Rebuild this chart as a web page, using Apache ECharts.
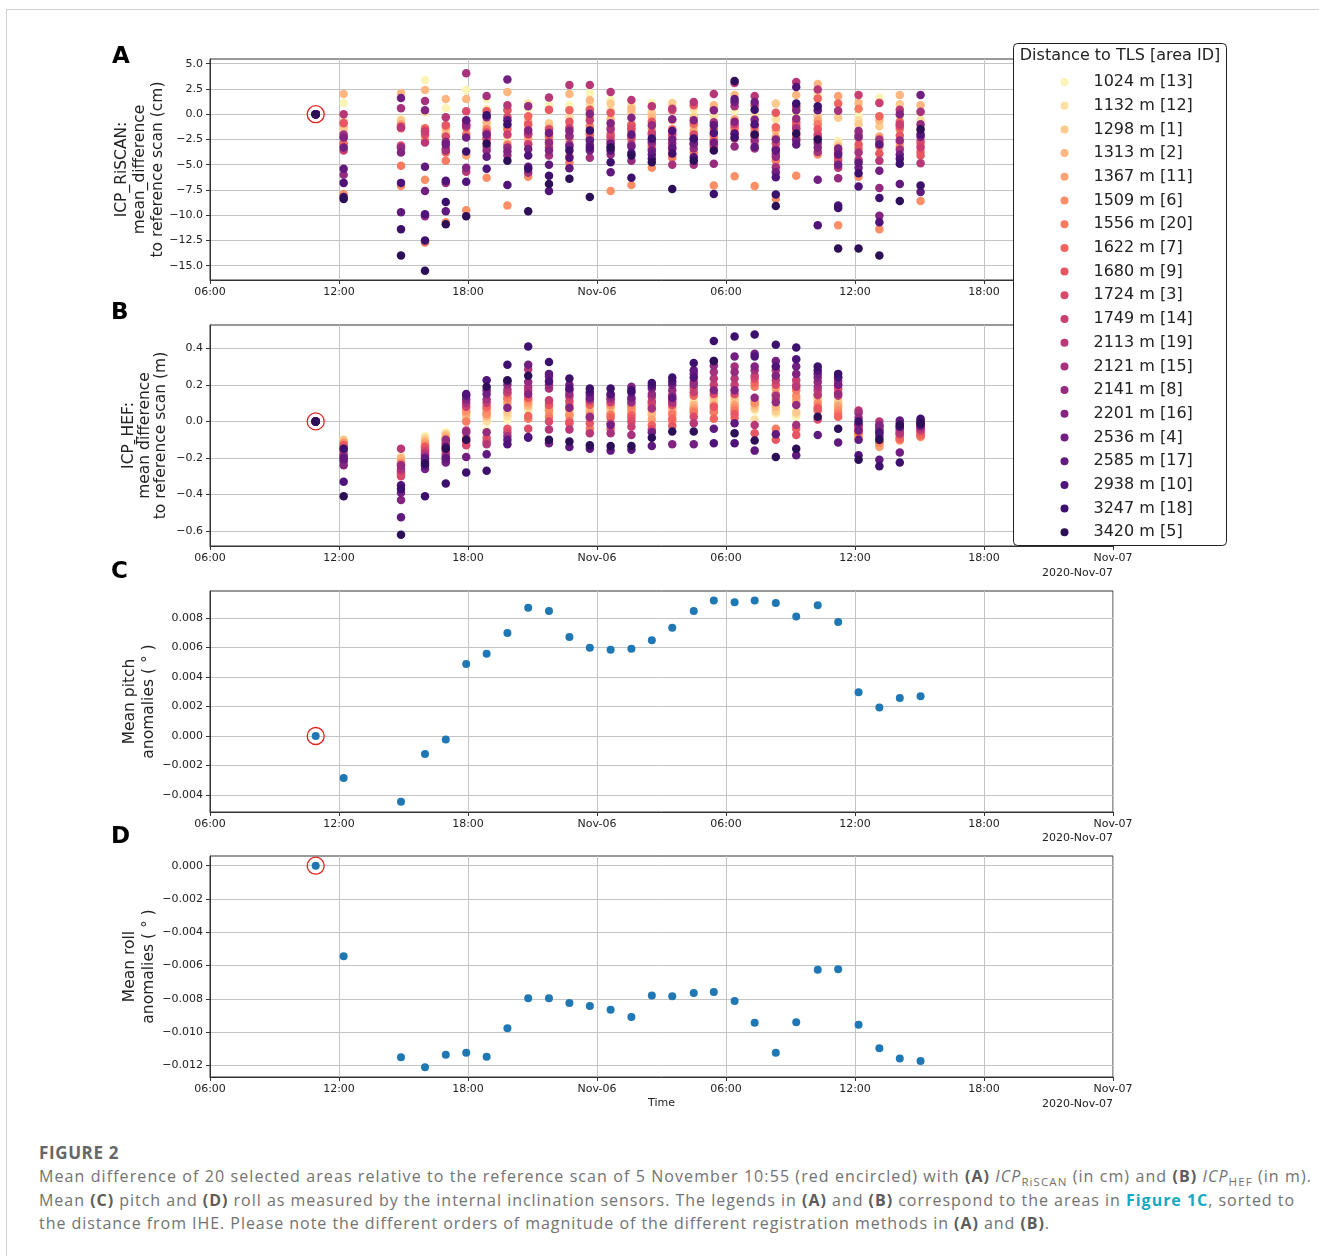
<!DOCTYPE html>
<html>
<head>
<meta charset="utf-8">
<script src="https://cdn.jsdelivr.net/npm/echarts@6/dist/echarts.min.js"></script>
<style>
body{margin:0;background:#fff;}
#page{position:relative;width:1319px;height:1256px;overflow:hidden;background:#fff;}
#frame{position:absolute;left:6px;top:9px;right:-2px;bottom:-2px;border-left:1px solid #d0d0d0;border-top:1px solid #d0d0d0;}
#main{position:absolute;left:0;top:0;width:1319px;height:1135px;}
.cap{position:absolute;left:39px;white-space:nowrap;font-family:'Open Sans';font-size:16px;line-height:20px;color:#727272;display:inline-block;}
.cap b{color:#5c5c5c;font-weight:700;}
.cap .lnk{color:#18a9c1;}
.cap .sb{font-size:11.5px;position:relative;top:4px;}
.fig{font-size:17px;font-weight:700;color:#666;}
</style>
</head>
<body>
<div id="page">
  <div id="frame"></div>
  <div id="main"></div>
  <div class="cap fig" style="top:1143px" data-w="80">FIGURE 2</div>
  <div class="cap" style="top:1166px" data-w="1273">Mean difference of 20 selected areas relative to the reference scan of 5 November 10:55 (red encircled) with <b>(A)</b> <i>ICP</i><span class="sb">RiSCAN</span> (in cm) and <b>(B)</b> <i>ICP</i><span class="sb">HEF</span> (in m).</div>
  <div class="cap" style="top:1189.5px" data-w="1256">Mean <b>(C)</b> pitch and <b>(D)</b> roll as measured by the internal inclination sensors. The legends in <b>(A)</b> and <b>(B)</b> correspond to the areas in <b class="lnk">Figure 1C</b>, sorted to</div>
  <div class="cap" style="top:1213px" data-w="1011">the distance from IHE. Please note the different orders of magnitude of the different registration methods in <b>(A)</b> and <b>(B)</b>.</div>
</div>
<script>
//扫描时间 (2020年11月, 月-日 时:分)
var scanTimes = ['11-05 10:55','11-05 12:13','11-05 14:53','11-05 16:00','11-05 16:58','11-05 17:55','11-05 18:52',
  '11-05 19:50','11-05 20:48','11-05 21:46','11-05 22:43','11-05 23:40','11-06 00:38','11-06 01:36',
  '11-06 02:33','11-06 03:30','11-06 04:30','11-06 05:26','11-06 06:24','11-06 07:20','11-06 08:19',
  '11-06 09:16','11-06 10:16','11-06 11:13','11-06 12:10','11-06 13:08','11-06 14:05','11-06 15:03'];

//区域: 到TLS的距离(m) 和 区域ID
var areaDist = [1024,1132,1298,1313,1367,1509,1556,1622,1680,1724,1749,2113,2121,2141,2201,2536,2585,2938,3247,3420];
var areaId = [13,12,1,2,11,6,20,7,9,3,14,19,15,8,16,4,17,10,18,5];

//A: ICP_RiSCAN 平均差 (cm), 每行一次扫描, 每列一个区域
var riscanCm = [
  [0,0,0,0,0,0,0,0,0,0,0,0,0,0,0,0,0,0,0,0],
  [1.1,-1.6,-1.3,2.0,-0.8,-7.9,-3.2,-2.9,-0.9,-2.3,-3.6,0.0,-2.0,-6.0,-2.3,-3.3,-5.4,-6.8,-8.2,-8.4],
  [-0.5,-0.8,-0.6,2.1,-1.0,-7.1,-5.1,-1.2,-1.4,-3.1,-3.3,-1.3,0.6,-3.3,-3.8,1.6,-9.7,-6.8,-11.4,-14.0],
  [3.4,0.2,-2.3,2.4,-2.5,-6.5,-12.7,-1.4,-1.6,-2.0,-1.7,-2.8,1.3,-10.1,0.4,-7.6,-5.2,-9.9,-12.5,-15.5],
  [0.6,-1.6,-1.9,1.5,-1.3,-10.7,-4.6,-3.8,-1.1,-2.2,-3.4,-0.3,-3.6,-6.8,-2.75,-3.0,-9.6,-6.6,-8.7,-10.9],
  [2.4,-1.4,-1.9,1.5,-4.1,-9.5,-2.0,-1.0,-0.7,0.3,-1.3,-5.7,4.05,-1.1,-5.3,-2.3,-0.6,-6.7,-3.7,-10.1],
  [1.5,0.5,-1.2,-0.8,-1.9,-6.3,-1.5,-2.5,0.3,-1.8,-2.3,-3.2,1.8,-3.6,-0.3,-2.0,-4.2,-5.4,-0.1,-2.9],
  [-2.2,-2.6,0.5,2.2,-1.2,-9.05,-3.0,-1.5,0.4,-0.3,-2.0,0.9,-4.1,-3.3,-3.7,3.45,-0.6,-7.0,-1.0,-4.6],
  [0.6,1.05,-1.2,-0.7,-2.4,-6.2,-2.9,-0.2,-1.0,-2.0,-3.0,-1.9,-5.8,0.8,-1.6,-3.45,-5.2,-4.1,-5.4,-9.6],
  [0.9,0.4,-0.9,-1.3,-2.0,-3.0,-2.6,-2.2,0.45,-1.5,-3.3,1.65,-4.1,-2.8,-3.6,-1.85,-5.0,-7.6,-6.1,-6.9],
  [0.9,-0.3,-1.2,2.0,-2.5,-4.1,-4.8,0.4,-0.75,-2.1,-1.4,2.9,-3.0,-2.2,-1.65,-3.2,-5.35,-4.3,-3.6,-6.4],
  [2.1,1.0,0.5,1.4,-0.3,-2.0,-1.2,-1.9,0.45,-2.4,-0.6,2.9,-4.3,-3.0,0.05,-3.6,-2.6,-3.3,-1.6,-8.2],
  [1.4,0.4,1.05,-0.5,-1.3,-7.6,-3.2,-1.9,0.15,-2.2,-2.6,2.2,-1.5,-4.0,-0.9,-2.9,-5.75,-3.6,-4.75,-3.3],
  [1.1,0.8,0.2,0.55,-1.0,-7.0,-2.5,-1.6,-1.1,-1.4,-2.25,1.4,-3.0,-4.6,-0.35,-3.2,-2.0,-3.85,-6.3,-4.1],
  [1.1,0.7,0.15,-0.3,-1.4,-5.3,-3.4,-3.2,-0.75,-1.8,-2.0,0.8,-2.9,-1.1,-2.65,-3.6,-4.0,-4.4,-2.4,-4.75],
  [0.4,0.7,1.1,-0.6,-2.25,-4.1,-4.3,-1.5,0.4,-2.0,-3.5,0.55,-5.0,-2.9,-0.5,-2.5,-3.3,-1.65,-3.9,-7.4],
  [0.25,0.6,-0.3,-1.2,-1.65,-2.9,-3.8,-0.95,0.9,-2.0,-3.0,1.2,-5.0,-3.4,-0.6,-2.9,-2.5,-4.25,-2.4,-4.6],
  [-0.25,-0.1,0.6,0.9,-2.25,-7.05,-2.0,-2.6,-1.5,-3.0,-3.2,2.0,-0.8,-4.9,0.4,-2.8,-1.1,-1.85,-7.9,-3.6],
  [0.35,0.9,1.2,1.9,-0.5,-6.15,-1.6,-1.3,-2.0,-2.4,-1.0,3.1,0.8,-3.2,-0.75,1.2,1.5,-1.9,-2.3,3.3],
  [0.6,0.2,-0.4,-1.5,-2.9,-7.1,-1.75,-2.2,-1.2,-2.1,0.9,1.8,-3.4,-2.6,-0.55,1.2,-3.25,-1.0,0.45,-2.0],
  [-0.2,-0.5,1.05,-1.6,-2.25,-8.4,-4.6,-1.3,0.15,-2.9,-3.9,-3.4,-5.25,-4.2,-2.5,-5.75,-3.6,-6.25,-7.95,-9.1],
  [0.2,-0.4,0.6,1.9,-1.6,-6.1,-2.1,-1.1,-0.8,-2.4,0.8,3.2,-1.4,-0.45,0.4,-2.6,-3.0,2.7,1.05,-1.9],
  [1.5,2.0,-0.2,3.0,-0.6,-4.0,-1.0,1.55,-1.5,-2.0,-2.25,2.45,-3.75,-2.85,-3.3,-6.5,0.4,-11.0,0.8,-2.5],
  [-2.65,-2.9,-0.35,-3.2,1.8,-11.0,-3.6,1.05,-4.3,-4.6,-3.8,-5.3,0.35,-6.35,-3.4,-5.0,-4.0,-9.05,-9.3,-13.3],
  [-0.2,-0.6,-1.0,1.1,-2.4,-6.2,0.55,-3.4,-3.0,-2.0,1.9,-4.5,-3.8,-1.65,-2.25,-5.3,-4.8,-7.15,-5.85,-13.3],
  [1.65,1.2,-1.2,-0.6,-2.2,-11.4,-3.2,-0.2,-3.9,-2.8,1.1,-4.6,-2.5,-7.3,-10.05,-5.6,-3.0,-10.7,-8.3,-14.0],
  [0.3,-0.2,1.0,1.9,-2.8,-3.2,-1.5,-0.75,-2.1,-1.2,-1.0,0.45,-3.5,-2.6,0.0,-4.0,-6.9,-4.4,-4.9,-8.6],
  [-1.2,-0.6,0.2,0.9,-1.6,-8.6,-3.0,-3.75,-4.1,-2.7,-3.3,-4.85,0.25,-1.0,-2.25,1.9,-7.7,-2.0,-7.05,-1.5]
];

//B: ICP_HEF 平均差 (m)
var hefM = [
  [0,0,0,0,0,0,0,0,0,0,0,0,0,0,0,0,0,0,0,0],
  [-0.10,-0.11,-0.10,-0.11,-0.12,-0.12,-0.13,-0.14,-0.13,-0.15,-0.16,-0.18,-0.22,-0.19,-0.24,-0.21,-0.20,-0.33,-0.15,-0.41],
  [-0.19,-0.20,-0.21,-0.20,-0.22,-0.24,-0.23,-0.28,-0.29,-0.30,-0.27,-0.15,-0.26,-0.24,-0.43,-0.39,-0.525,-0.35,-0.37,-0.62],
  [-0.08,-0.09,-0.10,-0.11,-0.12,-0.13,-0.14,-0.15,-0.14,-0.16,-0.17,-0.18,-0.19,-0.21,-0.22,-0.26,-0.20,-0.24,-0.41,-0.23],
  [-0.06,-0.07,-0.07,-0.08,-0.09,-0.10,-0.12,-0.13,-0.15,-0.16,-0.175,-0.12,-0.19,-0.10,-0.21,-0.225,-0.20,-0.14,-0.34,-0.15],
  [0.01,0.02,0.03,0.04,0.05,0.06,0.00,-0.09,-0.11,-0.13,0.08,-0.05,0.10,-0.06,0.12,-0.195,0.14,0.15,-0.28,-0.10],
  [-0.05,0.00,0.02,0.03,0.05,0.04,0.07,0.08,-0.09,-0.11,0.10,-0.125,0.12,-0.06,0.17,0.15,-0.18,0.225,-0.27,0.19],
  [0.01,0.03,0.05,0.08,0.10,0.12,0.13,0.15,-0.04,-0.06,0.16,0.175,-0.08,0.20,0.075,0.22,-0.10,-0.125,0.31,0.225],
  [0.06,0.07,0.08,0.09,0.10,0.115,0.015,0.03,0.13,-0.04,0.17,0.285,0.19,0.215,0.15,0.31,-0.09,-0.085,0.41,0.25],
  [0.05,0.06,0.07,0.04,0.08,0.06,0.025,0.10,0.09,0.00,0.115,-0.045,0.18,0.20,0.245,-0.12,0.26,0.22,0.325,-0.10],
  [0.05,0.06,0.04,0.03,0.07,0.035,0.09,0.00,-0.01,0.11,0.135,-0.045,0.17,0.15,0.075,0.20,-0.14,0.18,0.235,-0.11],
  [0.07,0.08,0.05,0.06,0.04,0.10,-0.04,0.09,-0.01,0.11,0.02,-0.065,0.12,0.025,0.145,0.13,-0.15,0.16,0.18,-0.13],
  [0.05,0.06,0.07,0.08,0.04,0.09,0.035,0.02,-0.04,-0.01,0.105,0.12,-0.065,0.13,0.145,-0.02,-0.16,0.15,0.18,-0.135],
  [0.07,0.06,0.05,0.04,0.08,0.065,0.09,0.035,0.02,0.00,-0.03,0.12,-0.075,0.105,0.19,0.13,-0.155,0.16,0.17,-0.135],
  [0.035,0.05,0.06,0.04,0.01,0.08,0.09,-0.02,0.10,-0.045,0.11,0.135,0.07,0.15,0.18,-0.06,-0.135,0.195,0.21,-0.09],
  [0.06,0.07,0.06,0.05,0.08,0.00,0.04,0.015,-0.025,0.09,0.12,0.145,0.105,0.17,-0.125,0.20,0.13,0.22,0.24,-0.055],
  [0.115,0.10,0.08,0.09,0.07,0.06,0.05,0.14,0.18,0.025,0.16,-0.01,0.215,0.20,0.26,-0.125,0.28,0.24,0.32,-0.055],
  [0.10,0.12,0.11,0.135,0.09,0.065,0.05,0.015,0.08,0.15,0.20,0.235,0.27,0.305,0.17,0.33,-0.04,-0.12,0.44,0.33],
  [0.10,0.12,0.11,0.135,0.09,0.075,0.06,0.02,0.04,0.15,0.20,0.235,0.30,0.27,0.17,0.355,-0.01,-0.12,0.465,-0.065],
  [0.06,0.01,0.07,0.09,0.11,0.10,0.19,0.21,-0.065,0.235,0.25,-0.02,0.28,0.13,0.30,0.37,-0.16,0.355,0.475,-0.105],
  [0.04,0.05,0.06,0.08,0.18,0.15,-0.04,0.12,-0.10,0.20,0.225,0.28,0.14,0.105,0.25,0.33,-0.07,0.30,0.42,-0.195],
  [0.025,0.04,0.05,0.10,0.12,0.14,0.17,-0.04,-0.075,0.20,0.225,0.19,-0.02,0.09,0.26,0.30,-0.185,0.34,0.405,-0.15],
  [0.11,0.12,0.13,0.14,0.15,0.10,0.08,0.06,0.07,0.01,0.17,0.145,0.19,0.215,0.24,0.26,-0.075,0.28,0.30,0.025],
  [0.12,0.11,0.10,0.09,0.08,0.06,0.04,0.025,0.16,0.18,0.14,0.20,0.22,0.15,0.24,0.20,-0.115,0.24,0.26,-0.04],
  [-0.06,-0.07,-0.08,-0.09,-0.08,-0.07,-0.05,-0.06,-0.04,-0.03,-0.02,0.06,0.045,0.02,-0.015,-0.05,-0.10,-0.185,0.00,-0.21],
  [-0.10,-0.11,-0.12,-0.13,-0.14,-0.12,-0.11,-0.09,-0.065,-0.05,-0.025,0.00,-0.045,-0.03,-0.02,-0.08,-0.21,-0.06,-0.245,-0.10],
  [-0.08,-0.09,-0.07,-0.08,-0.10,-0.105,-0.09,-0.095,-0.06,-0.07,-0.05,-0.065,-0.04,-0.03,-0.01,-0.17,0.005,-0.03,-0.225,-0.02],
  [-0.06,-0.07,-0.06,-0.07,-0.08,-0.085,-0.08,-0.075,-0.06,-0.05,-0.045,-0.04,-0.02,-0.03,0.00,0.005,-0.01,-0.02,0.015,-0.01]
];

//C: 平均俯仰异常 (度)
var pitchDeg = [0,-0.00285,-0.00445,-0.00122,-0.00023,0.00488,0.00558,0.00698,0.0087,0.00847,0.00671,0.00599,0.00585,0.00592,
  0.00649,0.00734,0.00847,0.00918,0.00906,0.00918,0.00902,0.00811,0.00886,0.00773,0.00296,0.00194,0.00258,0.00269];
//D: 平均横滚异常 (度)
var rollDeg = [0,-0.00544,-0.01152,-0.01212,-0.01136,-0.01124,-0.01148,-0.00977,-0.00797,-0.00797,-0.00825,-0.00843,-0.00866,-0.0091,
  -0.00781,-0.00785,-0.00765,-0.00759,-0.00813,-0.00944,-0.01124,-0.00942,-0.00625,-0.00623,-0.00956,-0.01098,-0.0116,-0.01174];

//刻度
var yTicksA = [-15,-12.5,-10,-7.5,-5,-2.5,0,2.5,5];
var yTicksB = [-0.6,-0.4,-0.2,0,0.2,0.4];
var yTicksC = [-0.004,-0.002,0,0.002,0.004,0.006,0.008];
var yTicksD = [-0.012,-0.010,-0.008,-0.006,-0.004,-0.002,0];

var FONT = 'DejaVu Sans';

//时间 -> 距 11-05 06:00 的小时数
function toHours(s){
	var d = parseInt(s.substr(3,2),10), h = parseInt(s.substr(6,2),10), m = parseInt(s.substr(9,2),10);
	return (d-5)*24 + h + m/60 - 6;
}
var hrs = scanTimes.map(toHours);

function fmtTime(v){
	var t = v + 6;
	var day = 5 + Math.floor(t/24 + 1e-9);
	var hh = Math.round(t - (day-5)*24);
	if (hh === 0) return 'Nov-0' + day;
	return (hh < 10 ? '0' : '') + hh + ':00';
}
function fmtNum(dec){
	return function(v){
		var s = Math.abs(v).toFixed(dec);
		return (v < -1e-12 ? '\u2212' : '') + s;
	};
}

//magma 色带
var magmaStops = ['#000004','#180f3e','#451077','#721f81','#9f2f7f','#cd4071','#f1605d','#fd9567','#fec98d','#fcfdbf'];
function magma(t){
	var p = t*9, i = Math.min(8, Math.floor(p)), f = p - i;
	var a = magmaStops[i], b = magmaStops[i+1];
	var out = '#';
	for (var k = 1; k < 7; k += 2){
		var ca = parseInt(a.substr(k,2),16), cb = parseInt(b.substr(k,2),16);
		var c = Math.round(ca + (cb-ca)*f);
		out += (c < 16 ? '0' : '') + c.toString(16);
	}
	return out;
}
var areaName = areaDist.map(function(d,i){ return d + ' m [' + areaId[i] + ']'; });
var areaColor = areaDist.map(function(d,i){ return magma(0.98 - i*0.82/19); });

var gridTops = [59, 325, 591, 856];

function xAx(i){
	var ax = {
		type:'value', gridIndex:i, min:0, max:42, interval:6,
		axisLine:{show:true, onZero:false, lineStyle:{color:'#333'}},
		axisTick:{show:true, length:4, lineStyle:{color:'#333'}},
		axisLabel:{formatter:fmtTime, fontSize:11, color:'#222', margin:7, fontFamily:FONT},
		splitLine:{show:true, lineStyle:{color:'#c4c4c4', width:1}}
	};
	if (i === 3){
		ax.name = 'Time';
		ax.nameLocation = 'middle';
		ax.nameGap = 21;
		ax.nameMoveOverlap = false;
		ax.nameTextStyle = {fontSize:11, color:'#222', fontFamily:FONT};
	}
	return ax;
}
function yAx(i, mn, mx, ticks, dec, name, gap, lh){
	return {
		type:'value', gridIndex:i, min:mn, max:mx,
		name:name, nameLocation:'middle', nameGap:gap, nameRotate:90, nameMoveOverlap:false,
		nameTextStyle:{fontSize:15.5, lineHeight:lh, color:'#222', fontFamily:FONT},
		axisLine:{show:true, onZero:false, lineStyle:{color:'#333'}},
		axisTick:{show:true, length:4, customValues:ticks, lineStyle:{color:'#333'}},
		axisLabel:{customValues:ticks, formatter:fmtNum(dec), fontSize:11, color:'#222', margin:7, fontFamily:FONT},
		splitLine:{show:true, lineStyle:{color:'#c4c4c4', width:1}}
	};
}

var series = [];
[riscanCm, hefM].forEach(function(tbl, g){
	areaName.forEach(function(nm, s){
		series.push({
			type:'scatter', name:nm, xAxisIndex:g, yAxisIndex:g,
			symbolSize:8.5, silent:true,
			itemStyle:{color:areaColor[s], opacity:1},
			data:tbl.map(function(row,k){ return [hrs[k], row[s]]; })
		});
	});
});
series.push({
	type:'scatter', name:'pitch', xAxisIndex:2, yAxisIndex:2, symbolSize:8, silent:true,
	itemStyle:{color:'#1f77b4', opacity:1},
	data:pitchDeg.map(function(v,k){ return [hrs[k], v]; })
});
series.push({
	type:'scatter', name:'roll', xAxisIndex:3, yAxisIndex:3, symbolSize:8, silent:true,
	itemStyle:{color:'#1f77b4', opacity:1},
	data:rollDeg.map(function(v,k){ return [hrs[k], v]; })
});
//参考扫描 红圈
[riscanCm[0][0], hefM[0][0], pitchDeg[0], rollDeg[0]].forEach(function(v, g){
	series.push({
		type:'scatter', name:'ref', xAxisIndex:g, yAxisIndex:g, symbol:'circle', symbolSize:17, z:5, silent:true,
		itemStyle:{color:'rgba(0,0,0,0)', borderColor:'#e3231f', borderWidth:1.3, opacity:1},
		data:[[hrs[0], v]]
	});
});

var graphics = [];
['A','B','C','D'].forEach(function(l, i){
	graphics.push({type:'text', x:[112,111,111,111][i], y:[57,313,572,837][i], z:100,
		style:{text:l, font:'bold 23px DejaVu Sans', fill:'#000', verticalAlign:'middle', align:'left'}});
});
[573, 838, 1104].forEach(function(y){
	graphics.push({type:'text', x:1113, y:y, z:100,
		style:{text:'2020-Nov-07', font:'11px DejaVu Sans', fill:'#222', verticalAlign:'middle', align:'right'}});
});
//图例外框和标题
graphics.push({type:'rect', z:8, shape:{x:1013.5, y:43.5, width:213, height:502, r:4},
	style:{fill:'#fff', stroke:'#222', lineWidth:1}});
graphics.push({type:'text', x:1120, y:56, z:100,
	style:{text:'Distance to TLS [area ID]', font:'16px DejaVu Sans', fill:'#222', verticalAlign:'middle', align:'center'}});

var myChart = echarts.init(document.getElementById('main'), null, {renderer:'canvas'});
var option = {
	animation:false,
	textStyle:{fontFamily:FONT},
	grid:gridTops.map(function(t){
		return {left:210, top:t, width:903, height:221, show:true, borderColor:'#333', borderWidth:1, backgroundColor:'rgba(0,0,0,0)'};
	}),
	xAxis:[xAx(0), xAx(1), xAx(2), xAx(3)],
	yAxis:[
		yAx(0, -16.42, 5.47, yTicksA, 1, 'ICP_RiSCAN:\nmean_difference\nto reference scan (cm)', 43.5, 18),
		yAx(1, -0.682, 0.5275, yTicksB, 1, 'ICP_HEF:\nmean d\u0304ifference\nto reference scan (m)', 41, 16),
		yAx(2, -0.00515, 0.00983, yTicksC, 3, 'Mean pitch\nanomalies ( \u00b0 )', 52, 18.4),
		yAx(3, -0.012705, 0.000584, yTicksD, 3, 'Mean roll\nanomalies ( \u00b0 )', 52, 18.4)
	],
	legend:{
		data:areaName, orient:'vertical', left:1060.5, top:74,
		padding:0, itemWidth:48, itemHeight:8, itemGap:7.7, icon:'circle',
		textStyle:{fontSize:16, lineHeight:16, color:'#222', fontFamily:FONT},
		selectedMode:false, z:10
	},
	graphic:graphics,
	series:series
};
myChart.setOption(option);

//图注行宽度对齐
var caps = document.querySelectorAll('.cap');
for (var i = 0; i < caps.length; i++){
	var el = caps[i];
	var target = parseFloat(el.getAttribute('data-w'));
	var w = el.getBoundingClientRect().width;
	var n = el.textContent.length;
	el.style.letterSpacing = ((target - w) / n) + 'px';
}
</script>
</body>
</html>
